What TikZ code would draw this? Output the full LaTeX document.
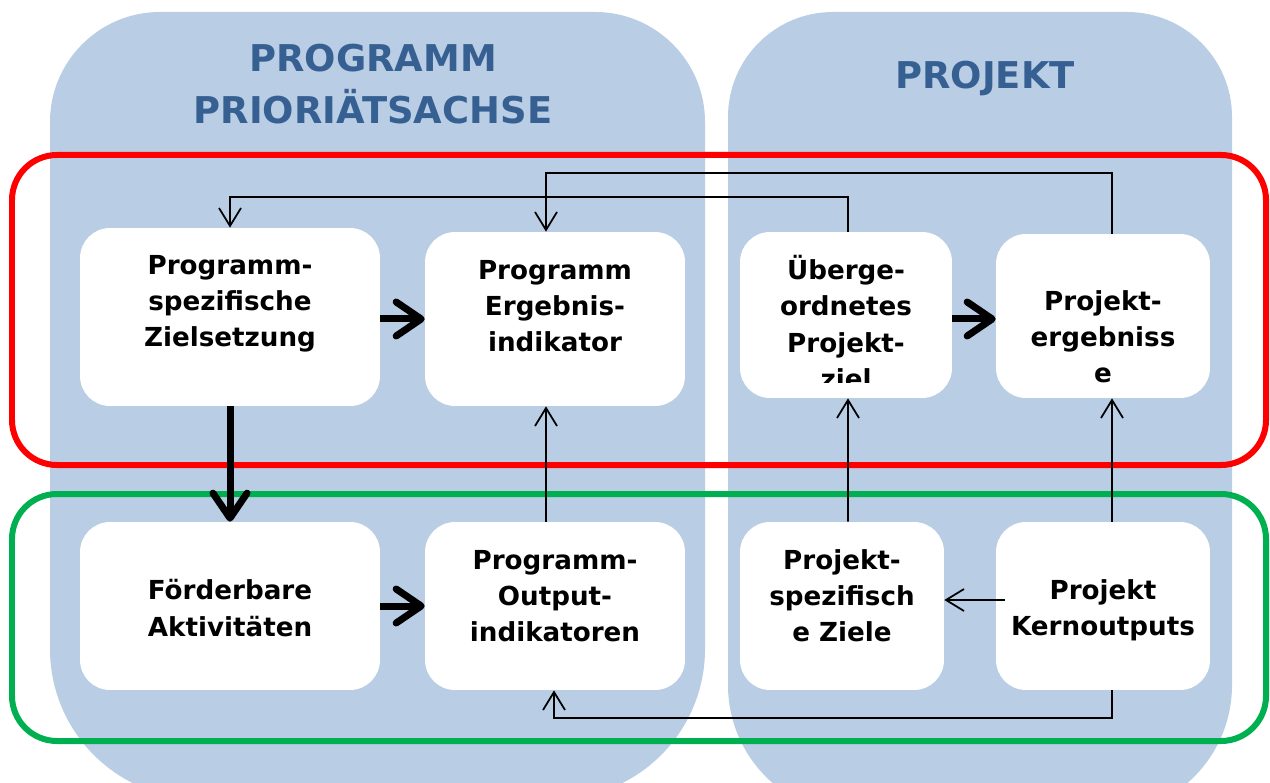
\documentclass[tikz,border=0pt]{standalone}
\usepackage{fontspec}
\setmainfont{DejaVu Sans}
\usetikzlibrary{arrows.meta}
\definecolor{colfill}{RGB}{185,205,229}
\definecolor{titleblue}{RGB}{55,96,146}
\definecolor{redframe}{RGB}{255,0,0}
\definecolor{greenframe}{RGB}{0,176,80}
\begin{document}
\begin{tikzpicture}[x=0.02cm,y=-0.02cm,
  box/.style={fill=white,draw=none,rounded corners=0.6cm,inner sep=0pt},
  txt/.style={font=\fontsize{14.9}{20.6}\selectfont\bfseries,align=center,inner sep=0pt},
  title/.style={text=titleblue,font=\fontsize{21}{29.5}\selectfont\bfseries,align=center,inner sep=0pt},
  frame/.style={line width=0.12cm,rounded corners=0.9cm},
  thinarrow/.style={line width=0.035cm,-{Straight Barb[length=0.36cm,width=0.44cm]}},
  thickarrow/.style={line width=0.14cm,-{Straight Barb[length=0.5cm,width=0.68cm,line cap=round,line join=round]}}]
\useasboundingbox (0,0) rectangle (1270,783);
\clip (0,0) rectangle (1270,783);
% columns
\fill[colfill] (50,400) [rounded corners=2.2cm] -- (50,12) -- (705,12) -- (705,400) [rounded corners=3cm] -- (705,799) -- (50,799) -- cycle;
\fill[colfill] (728,400) [rounded corners=2.1cm] -- (728,12) -- (1232,12) -- (1232,400) [rounded corners=2.6cm] -- (1232,815) -- (728,815) -- cycle;
% titles
\node[title] (t1) at (373,84) {PROGRAMM\\PRIORIÄTSACHSE};
\node[title] (t2) at (985,79) {PROJEKT};
% frames
\draw[frame,draw=redframe] (12,155) rectangle (1266,465);
\draw[frame,draw=greenframe] (12,494) rectangle (1266,741);
% boxes
\node[box,minimum width=6cm,minimum height=3.56cm] (A) at (230,317) {};
\node[box,minimum width=5.2cm,minimum height=3.48cm] (B) at (555,319) {};
\node[box,minimum width=4.24cm,minimum height=3.32cm] (C) at (846,315) {};
\node[box,minimum width=4.28cm,minimum height=3.28cm] (D) at (1103,316) {};
\node[box,minimum width=6cm,minimum height=3.36cm] (E) at (230,606) {};
\node[box,minimum width=5.2cm,minimum height=3.36cm] (F) at (555,606) {};
\node[box,minimum width=4.08cm,minimum height=3.36cm] (G) at (842,606) {};
\node[box,minimum width=4.28cm,minimum height=3.36cm] (H) at (1103,606) {};
% texts
\node[txt] (At) at (230,304) {Programm-\\spezifische\\Zielsetzung};
\node[txt] (Bt) at (555,306) {Programm\\Ergebnis-\\indikator};
\begin{scope}
\clip (C.north west) rectangle ([yshift=0.32cm]C.south east);
\node[txt] (Ct) at (846,322) {Überge-\\ordnetes\\Projekt-\\ziel};
\end{scope}
\begin{scope}
\clip (D.north west) rectangle ([yshift=0.32cm]D.south east);
\node[txt] (Dt) at (1103,337) {Projekt-\\ergebniss\\e};
\end{scope}
\node[txt] (Et) at (230,608) {Förderbare\\Aktivitäten};
\node[txt] (Ft) at (555,596) {Programm-\\Output-\\indikatoren};
\node[txt] (Gt) at (842,596) {Projekt-\\spezifisch\\e Ziele};
\node[txt] (Ht) at (1103,610) {Projekt\\Kernoutputs};
% thick arrows
\draw[thickarrow] (B.west -| A.east) -- (B.west);
\coordinate (cd) at ([yshift=-0.08cm]C.east);
\draw[thickarrow] (cd) -- (cd -| D.west);
\draw[thickarrow] (F.west -| E.east) -- (F.west);
\draw[thickarrow] (A.south) -- (E.north);
% thin arrows
\draw[thinarrow] ([xshift=0.04cm]C.north) -- ++(0,-35) -| (A.north);
\draw[thinarrow] ([xshift=0.18cm]D.north) -- ++(0,-61) -| ([xshift=-0.18cm]B.north);
\draw[thinarrow] ([xshift=-0.18cm]F.north) -- ([xshift=-0.18cm]B.south);
\draw[thinarrow] ([xshift=0.12cm]G.north) -- ([xshift=0.04cm]C.south);
\draw[thinarrow] ([xshift=0.18cm]H.north) -- ([xshift=0.18cm]D.south);
\draw[thinarrow] ([xshift=0.18cm,yshift=0.12cm]H.west) -- ([yshift=0.12cm]G.east);
\draw[thinarrow] ([xshift=0.18cm]H.south) -- ++(0,28) -| ([xshift=-0.02cm]F.south);
\end{tikzpicture}
\end{document}
